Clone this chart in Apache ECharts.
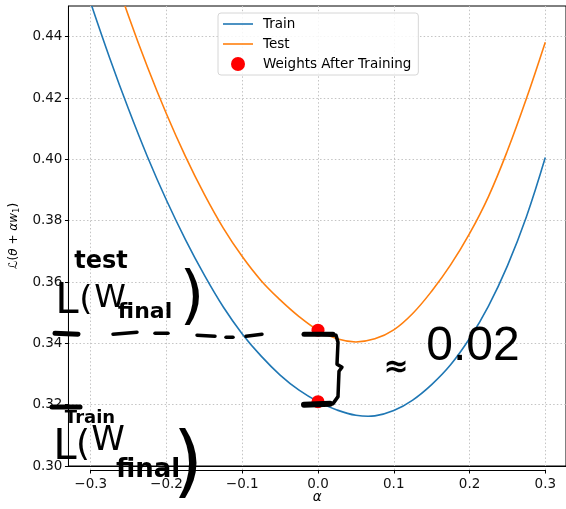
<!DOCTYPE html>
<html>
<head>
<meta charset="utf-8">
<script src="https://cdn.jsdelivr.net/npm/echarts@6/dist/echarts.min.js"></script>
<style>html,body{margin:0;padding:0;background:#fff;}#c{width:566px;height:509px;}</style>
</head>
<body>
<div id="c"></div>
<script>
// ---- data ----
const alphas = [-0.3,-0.275,-0.25,-0.225,-0.2,-0.175,-0.15,-0.125,-0.1,-0.075,-0.05,-0.025,0,
                0.025,0.05,0.075,0.1,0.125,0.15,0.175,0.2,0.225,0.25,0.275,0.3];
const trainLoss = [0.4510,0.4332,0.4166,0.4012,0.3872,0.3745,0.3630,0.3527,0.3440,0.3368,0.3307,0.3258,0.3221,
                   0.3194,0.3177,0.3175,0.3192,0.3226,0.3276,0.3340,0.3425,0.3530,0.3660,0.3818,0.4010];
const testLoss  = [0.4840,0.4647,0.4467,0.4302,0.4151,0.4014,0.3891,0.3782,0.3690,0.3612,0.3550,0.3496,0.3452,
                   0.3424,0.3414,0.3424,0.3453,0.3506,0.3578,0.3663,0.3764,0.3884,0.4032,0.4200,0.4383];
const finalAlpha = [0, 0];
const finalLoss = [0.3221, 0.3452];
const yTicks = [0.30,0.32,0.34,0.36,0.38,0.40,0.42,0.44];
const seriesNames = ['Train','Test','Weights After Training'];
const colors = ['#1f77b4', '#ff7f0e', '#ff0000'];

const FONT = 'DejaVu Sans';
const chart = echarts.init(document.getElementById('c'), null, {renderer:'canvas'});
const fmtX = v => Math.abs(v) < 1e-9 ? '0.0' : (v < 0 ? '\u2212' : '') + Math.abs(v).toFixed(1);
const grid = '#c4c4c4';
const spine = {show: true, onZero: false, lineStyle: {color: '#000', width: 1}};

// smooth curve through the data points, positioned by the axes (api.coord)
const curve = (ys, color) => (params, api) => {
  if (params.dataIndex !== 0) return null;
  const pts = alphas.map((a, i) => api.coord([a, ys[i]]));
  const cs = params.coordSys;
  return {type: 'polyline', shape: {points: pts, smooth: 0.4}, silent: true,
          style: {stroke: color, lineWidth: 1.6, fill: null, lineJoin: 'round'},
          clipPath: {type: 'rect', shape: {x: cs.x - 2, y: cs.y, width: cs.width + 4, height: cs.height}}};
};

const option = {
  animation: false,
  backgroundColor: '#fff',
  grid: [
    {left: 68, top: 6, width: 500, height: 464, show: true, borderColor: '#000', borderWidth: 1, backgroundColor: 'transparent'},
    {left: 90.73, top: 6, width: 454.55, height: 464}
  ],
  xAxis: [
    {gridIndex: 0, type: 'value', min: -0.33, max: 0.33,
     axisLine: spine, axisTick: {show: false}, axisLabel: {show: false}, splitLine: {show: false},
     name: 'α', nameLocation: 'middle', nameGap: 24,
     nameTextStyle: {fontFamily: FONT, fontSize: 13.5, fontStyle: 'italic', color: '#000'}},
    {gridIndex: 1, type: 'value', min: -0.3, max: 0.3, interval: 0.1,
     axisLine: spine,
     axisTick: {show: true, length: 3.5, lineStyle: {color: '#000', width: 1}},
     axisLabel: {formatter: fmtX, fontFamily: FONT, fontSize: 13.5, color: '#111', margin: 7, showMinLabel: true, showMaxLabel: true},
     splitLine: {show: true, lineStyle: {color: grid, width: 1, type: [1.5, 2.2]}}}
  ],
  yAxis: [
    {gridIndex: 0, type: 'value', min: 0.30, max: 0.45, interval: 0.02,
     axisLine: spine,
     axisTick: {show: true, length: 3.5, lineStyle: {color: '#000', width: 1}, customValues: yTicks},
     axisLabel: {formatter: v => v.toFixed(2), fontFamily: FONT, fontSize: 13.5, color: '#111', margin: 6, customValues: yTicks},
     splitLine: {show: true, lineStyle: {color: grid, width: 1, type: [1.5, 2.2]}},
     name: '{n|ℒ(}{i|θ}{n| + }{i|αw}{s|1}{n|)}', nameLocation: 'middle', nameGap: 44, nameRotate: 90,
     nameTextStyle: {rich: {
       n: {fontFamily: FONT, fontSize: 12, color: '#000'},
       i: {fontFamily: FONT, fontSize: 12, fontStyle: 'italic', color: '#000'},
       s: {fontFamily: FONT, fontSize: 8.5, color: '#000', padding: [6, 0, 0, 0]}
     }}},
    {gridIndex: 1, type: 'value', min: 0.30, max: 0.45, show: false, splitLine: {show: false},
     axisLine: {onZero: false}}
  ],
  legend: {
    data: [{name: seriesNames[0], icon: 'path://M0,0H30V1.6H0Z'}, {name: seriesNames[1], icon: 'path://M0,0H30V1.6H0Z'}, {name: seriesNames[2], icon: 'circle'}],
    orient: 'vertical', left: 218, top: 13,
    padding: [4, 7, 4, 5], itemGap: 6, itemWidth: 30, itemHeight: 14,
    borderColor: '#d6d6d6', borderWidth: 1, borderRadius: 3, backgroundColor: 'rgba(255,255,255,0.85)',
    textStyle: {fontFamily: FONT, fontSize: 13.5, color: '#000', padding: [0, 0, 0, 5]}
  },
  series: [
    {name: seriesNames[0], type: 'custom', xAxisIndex: 1, yAxisIndex: 1, renderItem: curve(trainLoss, colors[0]),
     itemStyle: {color: colors[0]}, data: alphas.map((a, i) => [a, trainLoss[i]]), z: 3},
    {name: seriesNames[1], type: 'custom', xAxisIndex: 1, yAxisIndex: 1, renderItem: curve(testLoss, colors[1]),
     itemStyle: {color: colors[1]}, data: alphas.map((a, i) => [a, testLoss[i]]), z: 3},
    {name: seriesNames[2], type: 'scatter', xAxisIndex: 1, yAxisIndex: 1, symbolSize: 13,
     itemStyle: {color: colors[2], opacity: 1}, data: finalAlpha.map((a, i) => [a, finalLoss[i]]), z: 4}
  ]
};
chart.setOption(option);

// ---- hand-written annotations (drawn on top) ----
const pTest = chart.convertToPixel({gridIndex: 1}, [finalAlpha[1], finalLoss[1]]);
const pTrain = chart.convertToPixel({gridIndex: 1}, [finalAlpha[0], finalLoss[0]]);
const yT = pTest[1] + 4, yB = pTrain[1] + 3;
const ink = (pts, w) => ({type: 'polyline', shape: {points: pts}, silent: true, z: 100,
  style: {stroke: '#000', lineWidth: w || 3.5, fill: null, lineCap: 'round', lineJoin: 'round'}});
const txt = (t, x, y, font) => ({type: 'text', x: x, y: y, silent: true, z: 100,
  style: {text: t, font: font, fill: '#000', align: 'center', verticalAlign: 'middle'}});

chart.setOption({graphic: [
  // top annotation: test L(W final)
  txt('test', 101, 262, 'bold 24px "DejaVu Sans"'),
  txt('L', 67, 302, '42px "DejaVu Sans"'),
  txt('(', 86, 301, '34px "DejaVu Sans"'),
  txt('W', 110, 299, '32px "DejaVu Sans"'),
  txt('final', 145, 312, 'bold 22px "DejaVu Sans"'),
  txt(')', 192, 300, '64px "DejaVu Sans"'),
  ink([[55, yT - 1], [78, yT]], 5),
  ink([[113, yT], [137, yT - 2]]),
  ink([[155, yT - 1], [168, yT - 1]]),
  ink([[197, yT + 1], [215, yT + 2]]),
  ink([[226, yT + 3], [233, yT + 3]]),
  ink([[246, yT + 2], [262, yT]]),
  ink([[304, yT], [333, yT]], 5),
  // brace between the two final losses
  ink([[320, yT], [336, yT + 1], [338, yT + 8], [337, yT + 30], [342, yT + 33], [339, yT + 37], [338, yB - 8], [333, yB - 1], [316, yB]], 3.5),
  ink([[304, yB], [330, yB - 1]], 6),
  txt('≈', 396, 368, 'bold 30px "DejaVu Sans"'),
  txt('0.02', 473, 347, '48px "Liberation Sans"'),
  // bottom annotation: Train L(W final)
  ink([[52, 407], [80, 407]], 5),
  txt('Train', 90, 418, 'bold 18px "DejaVu Sans"'),
  txt('L', 65, 448, '42px "DejaVu Sans"'),
  txt('(', 83, 446, '36px "DejaVu Sans"'),
  txt('W', 108, 441, '34px "DejaVu Sans"'),
  txt('final', 148, 470, 'bold 26px "DejaVu Sans"'),
  txt(')', 188, 468, '78px "DejaVu Sans"')
]});
</script>
</body>
</html>
